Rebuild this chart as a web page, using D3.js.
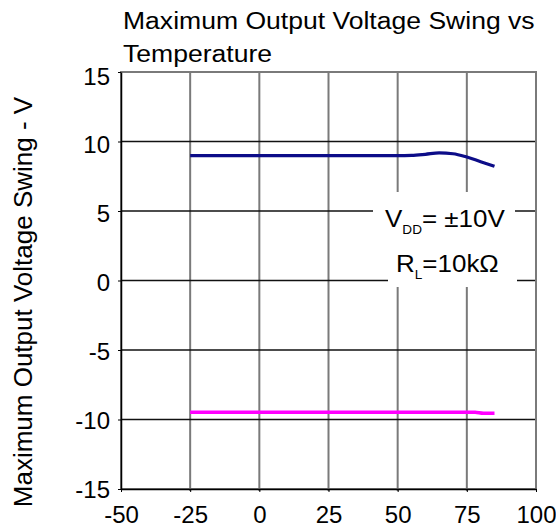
<!DOCTYPE html>
<html>
<head>
<meta charset="utf-8">
<script src="https://cdn.jsdelivr.net/npm/d3@7"></script>
<style>
  body { margin: 0; background: #fff; }
  svg { display: block; font-family: "Liberation Sans", Arial, sans-serif; }
</style>
</head>
<body>
<svg id="chart" width="556" height="529"></svg>
<script>
"use strict";

// values
const xTicks = [-50, -25, 0, 25, 50, 75, 100];
const yTicks = [-15, -10, -5, 0, 5, 10, 15];
const titleLines = ["Maximum Output Voltage Swing vs", "Temperature"];
const yLabel = "Maximum Output Voltage Swing - V";

const posTemps = [-25, 0, 25, 50, 55, 60, 65, 70, 75, 80, 85];
const posSwing = [8.98, 8.98, 8.98, 8.98, 9.0, 9.08, 9.18, 9.12, 8.88, 8.55, 8.22];
const negTemps = [-25, 0, 25, 50, 75, 78, 81, 85];
const negSwing = [-9.47, -9.47, -9.47, -9.47, -9.47, -9.48, -9.55, -9.55];

var svg = d3.select("#chart");
var pLeft = 121, pRight = 536, pTop = 72, pBottom = 489;
var sx = 1.13; // the reference text is a little wide

var x = d3.scaleLinear().domain([-50, 100]).range([pLeft, pRight]);
var y = d3.scaleLinear().domain([-15, 15]).range([pBottom, pTop]);
// labels on the y axis drift slightly below their gridlines
var yLab = d3.scaleLinear().domain([-15, 15]).range([489, 76]);

// grid
svg.append("g").selectAll("line")
  .data(xTicks.slice(1, -1))
  .join("line")
  .attr("x1", d => x(d)).attr("x2", d => x(d))
  .attr("y1", pTop).attr("y2", pBottom + 2)
  .attr("stroke", "#7a7a7a").attr("stroke-width", 2);

svg.append("g").selectAll("line")
  .data(yTicks.slice(1, -1))
  .join("line")
  .attr("x1", pLeft).attr("x2", pRight)
  .attr("y1", d => y(d)).attr("y2", d => y(d))
  .attr("stroke", "#111").attr("stroke-width", 1.3);

// frame
svg.append("rect")
  .attr("x", pLeft).attr("y", pTop)
  .attr("width", pRight - pLeft).attr("height", pBottom - pTop)
  .attr("fill", "none").attr("stroke", "#7a7a7a").attr("stroke-width", 2);

var plain = d => String(d); // hyphen minus, as in the reference
var xAxis = svg.append("g")
  .attr("transform", "translate(0," + pBottom + ")")
  .call(d3.axisBottom(x).tickValues(xTicks).tickFormat(plain)
    .tickSize(3).tickPadding(14).tickSizeOuter(0));
var yAxis = svg.append("g")
  .attr("transform", "translate(" + pLeft + ",0)")
  .call(d3.axisLeft(y).tickValues(yTicks).tickFormat(plain)
    .tickSize(3).tickPadding(8).tickSizeOuter(0));

[xAxis, yAxis].forEach(function(g) {
  g.select(".domain").attr("stroke", "#000").attr("stroke-width", 1.5);
  g.selectAll(".tick line").attr("stroke", "#000");
  g.selectAll(".tick text")
    .attr("fill", "#000")
    .style("font-size", "24px")
    .style("font-family", "'Liberation Sans', Arial, sans-serif");
});
yAxis.selectAll(".tick text").attr("dy", d => (yLab(d) - y(d)) + 8 + "px");

var line = d3.line().x(d => x(d[0])).y(d => y(d[1])).curve(d3.curveMonotoneX);

svg.append("path")
  .datum(d3.zip(posTemps, posSwing))
  .attr("d", line)
  .attr("fill", "none").attr("stroke", "#0c0c88").attr("stroke-width", 3.2);

svg.append("path")
  .datum(d3.zip(negTemps, negSwing))
  .attr("d", line)
  .attr("fill", "none").attr("stroke", "#ff00ff").attr("stroke-width", 3.5);

// condition note with its white backing
svg.append("rect").attr("x", 373).attr("y", 192).attr("width", 142).attr("height", 56).attr("fill", "#fff");
svg.append("rect").attr("x", 388).attr("y", 246).attr("width", 129).attr("height", 41).attr("fill", "#fff");

var note1 = svg.append("text")
  .attr("transform", "translate(385,227) scale(" + sx + ",1)")
  .style("font-size", "23px").attr("fill", "#000");
note1.append("tspan").text("V");
note1.append("tspan").attr("dy", 7).style("font-size", "12px").text("DD");
note1.append("tspan").attr("dy", -7).text("= \u00b110V");

var note2 = svg.append("text")
  .attr("transform", "translate(396,272) scale(" + sx + ",1)")
  .style("font-size", "23px").attr("fill", "#000");
note2.append("tspan").text("R");
note2.append("tspan").attr("dy", 7).style("font-size", "12px").text("L");
note2.append("tspan").attr("dy", -7).text("=10k\u03a9");

// title
svg.append("g").selectAll("text")
  .data(titleLines)
  .join("text")
  .attr("transform", (d, i) => "translate(123," + (29 + i * 33) + ") scale(" + sx + ",1)")
  .style("font-size", "23.5px")
  .attr("fill", "#000")
  .text(d => d);

svg.append("text")
  .attr("transform", "translate(32,302) rotate(-90)")
  .attr("text-anchor", "middle")
  .style("font-size", "26px")
  .attr("fill", "#000")
  .text(yLabel);
</script>
</body>
</html>
